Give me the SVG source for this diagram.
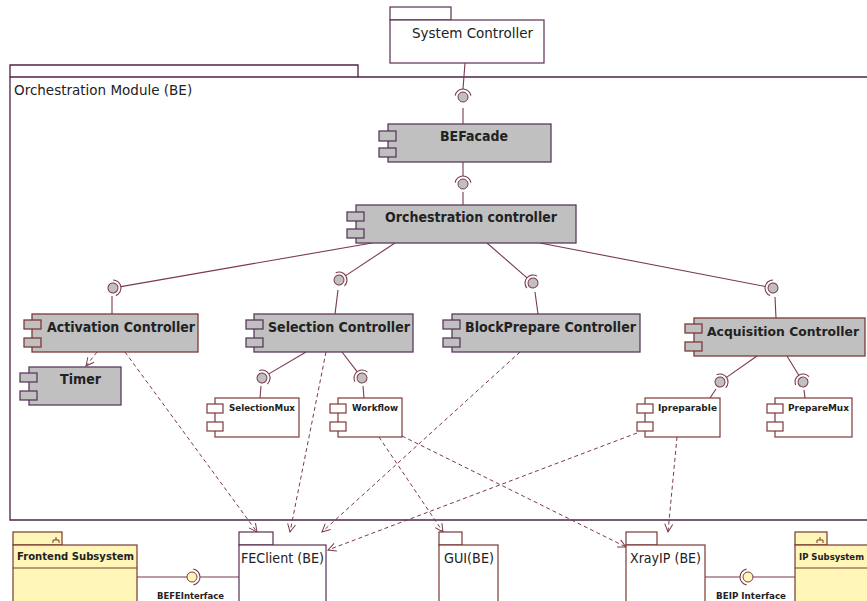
<svg xmlns="http://www.w3.org/2000/svg" xmlns:xlink="http://www.w3.org/1999/xlink" width="867" height="601" viewBox="0 0 867 601">
  <style>
    .bg { fill: #ffffff; }
    .frame { fill: none; stroke: #4d2347; stroke-width: 1.3; }
    .pkg { fill: #ffffff; stroke: #5a2f52; stroke-width: 1.2; }
    .pkgm { fill: #ffffff; stroke: #7a3838; stroke-width: 1.2; }
    .sub { fill: #fff6b8; stroke: #7a3a30; stroke-width: 1.2; }
    .compg { fill: #c0c0c0; stroke: #5a3a5e; stroke-width: 1.3; }
    .compr { fill: #c0c0c0; stroke: #7f3838; stroke-width: 1.3; }
    .compw { fill: #ffffff; stroke: #7f3838; stroke-width: 1.2; }
    .wire { fill: none; stroke: #7a3a4a; stroke-width: 1.1; }
    .dep { fill: none; stroke: #7a3a4a; stroke-width: 1; stroke-dasharray: 4 3; marker-end: url(#open); }
    .t { font-family: "DejaVu Sans", "Liberation Sans", sans-serif; fill: #222222; }
    .big { font-size: 13.5px; }
    .bold { font-weight: bold; }
    .small { font-size: 9.5px; }
  </style>
  <defs>
    <marker id="open" markerUnits="userSpaceOnUse" markerWidth="12" markerHeight="12" refX="0" refY="0" viewBox="-10 -6 12 12" orient="auto">
      <path d="M-8,-4 L0,0 L-8,4" fill="none" stroke="#7a3a4a" stroke-width="1" stroke-dasharray="none"/>
    </marker>
    <!-- ball-and-socket: circle inherits fill from <use>, socket faces +x -->
    <g id="lp">
      <circle r="5" stroke="#7a3a4a" stroke-width="1"/>
      <path d="M1.39,-7.88 A8,8 0 0 1 1.39,7.88" fill="none" stroke="#7a3a4a" stroke-width="1.1"/>
    </g>
  </defs>

  <rect class="bg" x="0" y="0" width="867" height="601"/>

  <!-- System Controller package -->
  <g id="system-controller">
    <rect class="pkg" x="390" y="7" width="61" height="13"/>
    <rect class="pkg" x="390" y="20" width="154" height="43"/>
    <text class="t big" x="412" y="38">System Controller</text>
  </g>

  <!-- Orchestration Module frame -->
  <g id="orchestration-module">
    <path class="frame" d="M10,77 V65 H358 V77"/>
    <path class="frame" d="M870,77 H10 V520 H870"/>
    <text class="t big" x="14" y="95">Orchestration Module (BE)</text>
  </g>

  <!-- connectors -->
  <g id="connectors">
    <!-- solid assembly wires -->
    <line class="wire" x1="465" y1="63" x2="463" y2="89"/>
    <line class="wire" x1="463" y1="108" x2="463" y2="124"/>
    <line class="wire" x1="463" y1="162" x2="463" y2="176"/>
    <line class="wire" x1="463" y1="192" x2="463" y2="205"/>
    <line class="wire" x1="372" y1="243" x2="121" y2="286.6"/>
    <line class="wire" x1="112" y1="296" x2="112" y2="314"/>
    <line class="wire" x1="395" y1="243" x2="345.7" y2="275.6"/>
    <line class="wire" x1="338" y1="290" x2="335" y2="314"/>
    <line class="wire" x1="487" y1="243" x2="527" y2="277.8"/>
    <line class="wire" x1="535" y1="292" x2="538" y2="314"/>
    <line class="wire" x1="540" y1="243" x2="765.1" y2="286.5"/>
    <line class="wire" x1="775" y1="297" x2="776" y2="318"/>
    <line class="wire" x1="306" y1="352" x2="268.9" y2="373.9"/>
    <line class="wire" x1="261" y1="386" x2="260" y2="398"/>
    <line class="wire" x1="342" y1="352" x2="357.1" y2="371.7"/>
    <line class="wire" x1="363" y1="386" x2="364" y2="398"/>
    <line class="wire" x1="757" y1="356" x2="726.5" y2="377.4"/>
    <line class="wire" x1="716" y1="389" x2="710" y2="398"/>
    <line class="wire" x1="787" y1="356" x2="798.8" y2="375.2"/>
    <line class="wire" x1="804" y1="390" x2="805" y2="398"/>
    <line class="wire" x1="137" y1="577" x2="187" y2="577"/>
    <line class="wire" x1="200" y1="577" x2="239" y2="577"/>
    <line class="wire" x1="705" y1="577" x2="740" y2="577"/>
    <line class="wire" x1="753" y1="577" x2="795" y2="577"/>

    <!-- ball-and-socket symbols -->
    <use xlink:href="#lp" href="#lp" fill="#c0c0c0" transform="translate(463,97) rotate(-90)"/>
    <use xlink:href="#lp" href="#lp" fill="#c0c0c0" transform="translate(463,184) rotate(-90)"/>
    <use xlink:href="#lp" href="#lp" fill="#c0c0c0" transform="translate(113,288) rotate(-9.9)"/>
    <use xlink:href="#lp" href="#lp" fill="#c0c0c0" transform="translate(339,280) rotate(-33.5)"/>
    <use xlink:href="#lp" href="#lp" fill="#c0c0c0" transform="translate(533,283) rotate(-139)"/>
    <use xlink:href="#lp" href="#lp" fill="#c0c0c0" transform="translate(773,288) rotate(-169.1)"/>
    <use xlink:href="#lp" href="#lp" fill="#c0c0c0" transform="translate(262,378) rotate(-30.6)"/>
    <use xlink:href="#lp" href="#lp" fill="#c0c0c0" transform="translate(362,378) rotate(-127.6)"/>
    <use xlink:href="#lp" href="#lp" fill="#c0c0c0" transform="translate(720,382) rotate(-35.1)"/>
    <use xlink:href="#lp" href="#lp" fill="#c0c0c0" transform="translate(803,382) rotate(-121.6)"/>
    <use xlink:href="#lp" href="#lp" fill="#fff6b8" transform="translate(192,577)"/>
    <use xlink:href="#lp" href="#lp" fill="#fff6b8" transform="translate(748,577) rotate(180)"/>

    <!-- usage dependencies -->
    <line class="dep" x1="97" y1="352" x2="86" y2="366"/>
    <line class="dep" x1="125" y1="352" x2="257" y2="532"/>
    <line class="dep" x1="326" y1="352" x2="290" y2="532"/>
    <line class="dep" x1="520" y1="352" x2="322" y2="532"/>
    <line class="dep" x1="379" y1="437" x2="443" y2="532"/>
    <line class="dep" x1="402" y1="436" x2="626" y2="547"/>
    <line class="dep" x1="637" y1="433" x2="328" y2="550"/>
    <line class="dep" x1="677" y1="437" x2="668" y2="532"/>
  </g>

  <!-- components -->
  <g id="befacade">
    <rect class="compg" x="388" y="124" width="163" height="38"/>
    <rect class="compg" x="379" y="131" width="17" height="10"/>
    <rect class="compg" x="379" y="148" width="17" height="9"/>
    <text class="t big bold" x="440" y="141" textLength="68" lengthAdjust="spacingAndGlyphs">BEFacade</text>
  </g>

  <g id="orchestration-controller">
    <rect class="compg" x="356" y="205" width="220" height="38"/>
    <rect class="compg" x="347" y="212" width="17" height="9"/>
    <rect class="compg" x="347" y="229" width="17" height="9"/>
    <text class="t big bold" x="385" y="222" textLength="172" lengthAdjust="spacingAndGlyphs">Orchestration controller</text>
  </g>

  <g id="activation-controller">
    <rect class="compr" x="32" y="314" width="166" height="38"/>
    <rect class="compr" x="24" y="320" width="17" height="9"/>
    <rect class="compr" x="24" y="338" width="17" height="9"/>
    <text class="t big bold" x="47" y="332" textLength="148" lengthAdjust="spacingAndGlyphs">Activation Controller</text>
  </g>

  <g id="timer">
    <rect class="compg" x="29" y="367" width="92" height="38"/>
    <rect class="compg" x="20" y="373" width="17" height="9"/>
    <rect class="compg" x="20" y="391" width="17" height="9"/>
    <text class="t big bold" x="60" y="384" textLength="41" lengthAdjust="spacingAndGlyphs">Timer</text>
  </g>

  <g id="selection-controller">
    <rect class="compg" x="254" y="314" width="159" height="38"/>
    <rect class="compg" x="246" y="320" width="17" height="9"/>
    <rect class="compg" x="246" y="338" width="17" height="9"/>
    <text class="t big bold" x="268" y="332" textLength="142" lengthAdjust="spacingAndGlyphs">Selection Controller</text>
  </g>

  <g id="blockprepare-controller">
    <rect class="compg" x="452" y="314" width="188" height="38"/>
    <rect class="compg" x="443" y="320" width="17" height="9"/>
    <rect class="compg" x="443" y="338" width="17" height="9"/>
    <text class="t big bold" x="465" y="332" textLength="171" lengthAdjust="spacingAndGlyphs">BlockPrepare Controller</text>
  </g>

  <g id="acquisition-controller">
    <rect class="compr" x="694" y="318" width="171" height="38"/>
    <rect class="compr" x="685" y="324" width="17" height="9"/>
    <rect class="compr" x="685" y="342" width="17" height="9"/>
    <text class="t bold" font-size="12.2" x="707" y="336" textLength="152" lengthAdjust="spacingAndGlyphs">Acquisition Controller</text>
  </g>

  <g id="selectionmux">
    <rect class="compw" x="215" y="398" width="84" height="39"/>
    <rect class="compw" x="207" y="404" width="16" height="9"/>
    <rect class="compw" x="207" y="422" width="16" height="9"/>
    <text class="t small bold" x="229" y="411" textLength="66" lengthAdjust="spacingAndGlyphs">SelectionMux</text>
  </g>

  <g id="workflow">
    <rect class="compw" x="338" y="398" width="64" height="39"/>
    <rect class="compw" x="330" y="404" width="16" height="9"/>
    <rect class="compw" x="330" y="422" width="16" height="9"/>
    <text class="t small bold" x="352" y="411" textLength="46" lengthAdjust="spacingAndGlyphs">Workflow</text>
  </g>

  <g id="ipreparable">
    <rect class="compw" x="645" y="398" width="75" height="39"/>
    <rect class="compw" x="637" y="404" width="16" height="9"/>
    <rect class="compw" x="637" y="422" width="16" height="9"/>
    <text class="t small bold" x="658" y="411" textLength="59" lengthAdjust="spacingAndGlyphs">Ipreparable</text>
  </g>

  <g id="preparemux">
    <rect class="compw" x="775" y="398" width="77" height="39"/>
    <rect class="compw" x="767" y="404" width="16" height="9"/>
    <rect class="compw" x="767" y="422" width="16" height="9"/>
    <text class="t small bold" x="788" y="411" textLength="61" lengthAdjust="spacingAndGlyphs">PrepareMux</text>
  </g>

  <!-- packages along the bottom -->
  <g id="frontend-subsystem">
    <rect class="sub" x="13" y="532" width="49" height="13"/>
    <path d="M56,537 V540 M53,543 V540 H59 V543" fill="none" stroke="#7a3a30" stroke-width="1"/>
    <rect class="sub" x="13" y="545" width="124" height="60"/>
    <line x1="13" y1="568" x2="137" y2="568" stroke="#7a3a30" stroke-width="1.2"/>
    <text class="t bold" font-size="10.5" x="17" y="560" textLength="117" lengthAdjust="spacingAndGlyphs">Frontend Subsystem</text>
  </g>

  <g id="feclient">
    <rect class="pkg" x="239" y="532" width="34" height="13"/>
    <rect class="pkg" x="239" y="545" width="87" height="60"/>
    <text class="t big" x="241" y="563" textLength="83" lengthAdjust="spacingAndGlyphs">FEClient (BE)</text>
  </g>

  <g id="gui">
    <rect class="pkgm" x="439" y="532" width="23" height="13"/>
    <rect class="pkgm" x="439" y="545" width="59" height="60"/>
    <text class="t big" x="444" y="563" textLength="50" lengthAdjust="spacingAndGlyphs">GUI(BE)</text>
  </g>

  <g id="xrayip">
    <rect class="pkgm" x="626" y="532" width="31" height="13"/>
    <rect class="pkgm" x="626" y="545" width="79" height="60"/>
    <text class="t big" x="630" y="563" textLength="71" lengthAdjust="spacingAndGlyphs">XrayIP (BE)</text>
  </g>

  <g id="ip-subsystem">
    <rect class="sub" x="795" y="532" width="32" height="13"/>
    <path d="M820,537 V540 M817,543 V540 H823 V543" fill="none" stroke="#7a3a30" stroke-width="1"/>
    <rect class="sub" x="795" y="545" width="80" height="60"/>
    <line x1="795" y1="568" x2="875" y2="568" stroke="#7a3a30" stroke-width="1.2"/>
    <text class="t bold" font-size="8.8" x="799" y="560" textLength="65" lengthAdjust="spacingAndGlyphs">IP Subsystem</text>
  </g>

  <!-- interface labels -->
  <text class="t small bold" x="157" y="599" textLength="67" lengthAdjust="spacingAndGlyphs">BEFEInterface</text>
  <text class="t small bold" x="716" y="599" textLength="70" lengthAdjust="spacingAndGlyphs">BEIP Interface</text>
</svg>
